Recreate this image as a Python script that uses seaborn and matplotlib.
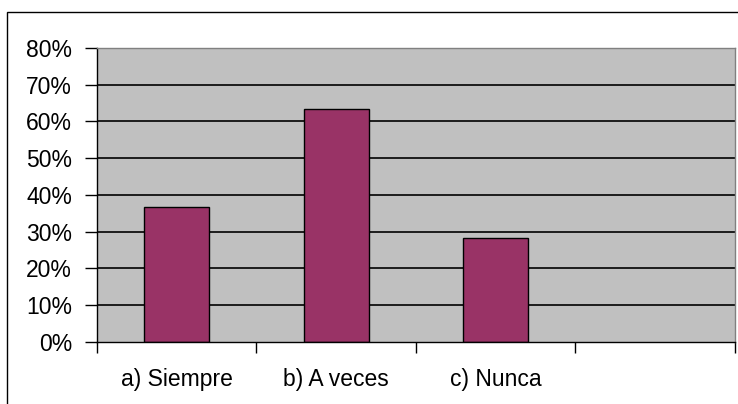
import matplotlib
matplotlib.use("Agg")
import matplotlib.pyplot as plt
import seaborn as sns
import pandas as pd
from matplotlib.patches import Rectangle
from matplotlib.ticker import PercentFormatter

# data
categories = ["a) Siempre", "b) A veces", "c) Nunca"]
values = [36.6, 63.4, 28.3]
y_ticks = [0, 10, 20, 30, 40, 50, 60, 70, 80]

df = pd.DataFrame({"respuesta": categories, "pct": values})

sns.set_style("white")
plt.rcParams["font.family"] = ["Liberation Sans", "DejaVu Sans"]
plt.rcParams["xtick.color"] = "#000000"
plt.rcParams["ytick.color"] = "#000000"

fig = plt.figure(figsize=(7.38, 4.04), dpi=100)
ax = fig.add_axes([0.1314, 0.1535, 0.8645, 0.7277])

# outer chart border (cropped on right/bottom like the source)
fig.patches.append(Rectangle((7 / 738, -0.05), 1.2, 1 - 12 / 404 + 0.05,
                             transform=fig.transFigure, fill=False,
                             edgecolor="#000000", linewidth=1.0, zorder=0))

ax.set_facecolor("#C0C0C0")
for y in y_ticks[1:]:
    ax.axhline(y, color="#000000", linewidth=1.2, zorder=1)

sns.barplot(data=df, x="respuesta", y="pct", color="#993366",
            saturation=1, width=0.41, edgecolor="#000000", linewidth=1.0,
            ax=ax, zorder=2)

ax.set_xlim(-0.5, 3.5)
ax.set_ylim(0, 80)
ax.set_yticks(y_ticks)
ax.yaxis.set_major_formatter(PercentFormatter(decimals=0))
ax.set_xlabel("")
ax.set_ylabel("")

# ticks at category boundaries, labels at centres
ax.set_xticks([-0.5, 0.5, 1.5, 2.5, 3.5])
ax.set_xticklabels([])
ax.set_xticks(range(len(categories)), minor=True)
ax.set_xticklabels(categories, minor=True)
ax.tick_params(axis="x", which="major", direction="out", length=8, width=1, color="#000000")
ax.tick_params(axis="x", which="minor", length=0, pad=19, labelsize=16.5, labelcolor="#000000")
ax.tick_params(axis="y", direction="out", length=9, width=1, color="#000000", pad=9,
               labelsize=16.5, labelcolor="#000000")
ax.tick_params(left=True, bottom=True)

for side in ["left", "bottom"]:
    ax.spines[side].set_color("#000000")
    ax.spines[side].set_linewidth(1.0)
for side in ["top", "right"]:
    ax.spines[side].set_color("#808080")
    ax.spines[side].set_linewidth(1.0)

fig.savefig("out.png", dpi=100)
